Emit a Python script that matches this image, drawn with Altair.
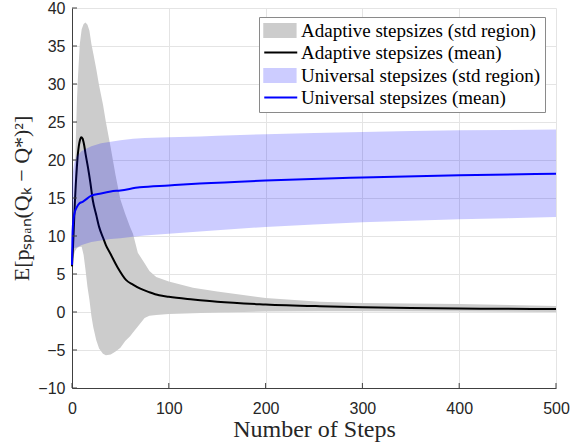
import altair as alt
import pandas as pd

# ---------------- data ----------------
series_names = [
    "Adaptive stepsizes (std region)",
    "Adaptive stepsizes (mean)",
    "Universal stepsizes (std region)",
    "Universal stepsizes (mean)",
]

# Adaptive stepsizes: mean
adapt_x = [0, 1, 2, 3, 4, 5, 6, 7, 8, 9.5, 11, 12.5, 14, 16.4, 19, 21.5, 25, 28, 32, 35,
           40, 47, 56, 63, 70, 80, 90, 100, 125, 150, 200, 256, 300, 350, 400, 450, 500]
adapt_mean = [6, 8.5, 11.5, 14.5, 17, 19, 20.7, 21.8, 22.5, 23, 22.8, 22, 20.8, 19.1, 17, 14.7,
              12.8, 11.2, 9.8, 8.8, 7.6, 5.9, 4.2, 3.6, 3.1, 2.6, 2.2, 2.0, 1.65, 1.35, 1.0,
              0.76, 0.62, 0.52, 0.46, 0.42, 0.38]

# Adaptive stepsizes: std region
gray_x = [0, 1, 2, 3, 4, 5, 6, 8, 10, 12, 14, 16, 18, 20, 22, 25, 28, 32, 35, 40, 45, 50,
          55, 60, 63, 68, 75, 80, 87, 100, 125, 150, 200, 256, 300, 400, 500]
gray_upper = [6, 9, 12, 17, 23, 27.5, 30.5, 35.2, 37.2, 37.9, 38.1, 37.8, 37, 35.3, 34, 32,
              29.8, 27.3, 25, 21.6, 18, 14.8, 12.9, 11.2, 10.3, 7.8, 6.4, 5.4, 4.6, 4.0, 3.2,
              2.7, 1.85, 1.35, 1.2, 1.05, 0.8]
gray_lower = [6, 7, 7.5, 8, 8.2, 8.4, 8.5, 8.6, 8.6, 7.5, 5.5, 3.3, 1.6, -0.5, -2, -3.7,
              -4.8, -5.5, -5.7, -5.6, -5.2, -4.7, -3.8, -3.2, -2.7, -1.9, -0.8, -0.5, -0.4,
              -0.25, -0.15, -0.05, 0.05, 0.1, 0.1, 0.05, 0.0]

# Universal stepsizes: std region
blue_x = [0, 1, 2, 3, 5, 10, 20, 30, 40, 50, 63, 75, 100, 132, 150, 200, 250, 300, 350,
          400, 450, 500]
blue_upper = [16.5, 18.5, 19.4, 19.9, 20.5, 21.2, 21.8, 22.2, 22.4, 22.6, 22.8, 22.9, 23.0,
              23.1, 23.2, 23.4, 23.55, 23.7, 23.8, 23.9, 23.95, 24.0]
blue_lower = [8.2, 8.3, 8.4, 8.45, 8.5, 8.8, 9.2, 9.4, 9.6, 9.7, 9.9, 10.05, 10.3, 10.6,
              10.75, 11.2, 11.5, 11.8, 12.0, 12.2, 12.35, 12.5]

# Universal stepsizes: mean
bmean_x = [0, 0.5, 1, 1.5, 2.6, 5, 7.8, 11, 20, 30, 40, 50, 70, 100, 132, 200, 300, 400, 500]
bmean_y = [6.2, 10, 11.5, 12.2, 13, 13.8, 14.3, 14.5, 15.3, 15.6, 15.85, 16.0, 16.4, 16.65,
           16.9, 17.3, 17.7, 18.0, 18.2]

x_ticks = [0, 100, 200, 300, 400, 500]
y_ticks = [-10, -5, 0, 5, 10, 15, 20, 25, 30, 35, 40]

legend_colors = ["#cccccc", "#000000", "#ccccff", "#0000ff"]
# legend glyphs: filled patch for the std regions, short stroke for the means
PATCH = "M-1,-0.8H2.8V0.8H-1Z"
STROKE = "M-1,0H3"
legend_shapes = [PATCH, STROKE, PATCH, STROKE]

# ---------------- tables ----------------
gray_df = pd.DataFrame({"x": gray_x, "lo": gray_lower, "hi": gray_upper})
blue_df = pd.DataFrame({"x": blue_x, "lo": blue_lower, "hi": blue_upper})
adapt_df = pd.DataFrame({"x": adapt_x, "y": adapt_mean, "series": series_names[1]})
bmean_df = pd.DataFrame({"x": bmean_x, "y": bmean_y, "series": series_names[3]})
legend_df = pd.DataFrame({"series": series_names, "x": 0.0, "y": 0.0})
xt_df = pd.DataFrame({"v": x_ticks})
yt_df = pd.DataFrame({"v": y_ticks})

W, H = 484, 380
TXT = "#262626"

x_scale = alt.Scale(domain=[0, 500], nice=False, zero=False)
y_scale = alt.Scale(domain=[-10, 40], nice=False, zero=False)

x_axis = alt.Axis(values=x_ticks, grid=True, tickSize=0, labelPadding=12,
                  labelFont="Liberation Sans", labelFontSize=16, labelColor=TXT,
                  titleFont="Liberation Serif", titleFontSize=24, titleFontWeight="normal",
                  titleColor=TXT, titlePadding=1, domainColor="#404040",
                  gridColor="#e4e4e4", labelFlush=False)
y_axis = alt.Axis(values=y_ticks, grid=True, tickSize=0, labelPadding=7,
                  labelFont="Liberation Sans", labelFontSize=16, labelColor=TXT,
                  titleFont="Liberation Serif", titleFontSize=22, titleFontWeight="normal",
                  titleColor=TXT, titlePadding=4, domainColor="#404040",
                  gridColor="#e4e4e4", labelFlush=False)

X_TITLE = "Number of Steps"
Y_TITLE = "E[pₛₚₐₙ(Qₖ − Q*)²]"


def xenc(field):
    return alt.X(f"{field}:Q", scale=x_scale, axis=x_axis, title=X_TITLE)


def yenc(field):
    return alt.Y(f"{field}:Q", scale=y_scale, axis=y_axis, title=Y_TITLE)


legend = alt.Legend(title=None, orient="none", legendX=187, legendY=9,
                    symbolSize=272, symbolStrokeWidth=2,
                    labelFont="Liberation Serif", labelFontSize=19, labelColor="black",
                    labelOffset=19, labelLimit=400, rowPadding=1,
                    strokeColor="#8a8a8a", fillColor="white", padding=4, cornerRadius=0)

gray_area = alt.Chart(gray_df).mark_area(color="#cccccc", opacity=1).encode(
    x=xenc("x"), y=yenc("lo"), y2="hi:Q")

adapt_line = alt.Chart(adapt_df).mark_line(interpolate="monotone", color="#000000",
                                           strokeWidth=2).encode(x=xenc("x"), y=yenc("y"))

blue_area = alt.Chart(blue_df).mark_area(color="#0000ff", opacity=0.2).encode(
    x=xenc("x"), y=yenc("lo"), y2="hi:Q")

bmean_line = alt.Chart(bmean_df).mark_line(interpolate="monotone", color="#0000ff",
                                           strokeWidth=2).encode(x=xenc("x"), y=yenc("y"))

# legend-only layer: no marks drawn, the legend comes from the explicit scale domains
legend_layer = alt.Chart(legend_df).transform_filter("false").mark_point(
    opacity=1, filled=True).encode(
    x=xenc("x"), y=yenc("y"),
    fill=alt.Fill("series:N", scale=alt.Scale(domain=series_names, range=legend_colors),
                  legend=legend),
    stroke=alt.Stroke("series:N", scale=alt.Scale(domain=series_names, range=legend_colors),
                      legend=legend),
    shape=alt.Shape("series:N", scale=alt.Scale(domain=series_names, range=legend_shapes),
                    legend=legend),
)

xticks = alt.Chart(xt_df).mark_rule(color="#404040", strokeWidth=1).encode(
    x=xenc("v"), y=alt.value(H), y2=alt.value(H - 5))
yticks = alt.Chart(yt_df).mark_rule(color="#404040", strokeWidth=1).encode(
    y=yenc("v"), x=alt.value(0), x2=alt.value(5))

chart = alt.layer(gray_area, adapt_line, blue_area, bmean_line, xticks, yticks,
                  legend_layer).properties(
    width=W, height=H,
    padding={"left": 72, "top": 8, "right": 16, "bottom": 56},
    autosize=alt.AutoSizeParams(type="none"),
    background="white",
).configure_view(stroke=None)

chart.save("out.html", embed_options={"renderer": "svg", "actions": False})
